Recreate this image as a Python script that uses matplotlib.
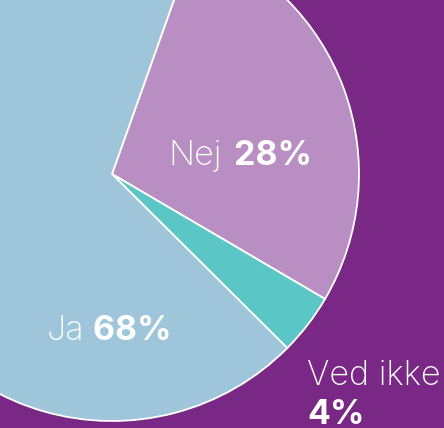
import matplotlib.pyplot as plt

labels = ["Nej", "Ved ikke", "Ja"]
values = [28, 4, 68]
colors = ["#b98fc3", "#5bc6c6", "#9fc5db"]
bg = "#7a2886"

plt.rcParams['font.family'] = ['Inter', 'DejaVu Sans']

fig = plt.figure(figsize=(4.44, 4.28), dpi=100, facecolor=bg)
ax = fig.add_axes([0, 0, 1, 1])
ax.set_facecolor(bg)

# pie is bigger than the picture, centre top-left, cropped by the frame
ax.pie(values, colors=colors, startangle=70.4, counterclock=False,
       center=(112, 254), radius=247,
       wedgeprops=dict(edgecolor="white", linewidth=1.3))
ax.set_xlim(0, 444)
ax.set_ylim(0, 428)
ax.set_aspect("equal")
ax.axis("off")

FS = 24.5


def label(x, y, name, pct, newline=False, gap=0):
    t = ax.text(x, y, name, color="white", fontsize=FS, fontweight="light",
                va="baseline", ha="left")
    if newline:
        ax.text(x, y - 39, f"{pct}%", color="white", fontsize=FS,
                fontweight="bold", va="baseline", ha="left")
    else:
        ax.annotate(f" {pct}%", xy=(1, 0), xycoords=t, xytext=(gap, 0),
                    textcoords="offset points", color="white",
                    fontsize=FS, fontweight="bold", va="bottom", ha="left")


label(168, 263, labels[0], values[0], gap=3)
label(307, 43, labels[1], values[1], newline=True)
label(47, 88, labels[2], values[2])

fig.savefig("out.png", dpi=100, facecolor=bg)
